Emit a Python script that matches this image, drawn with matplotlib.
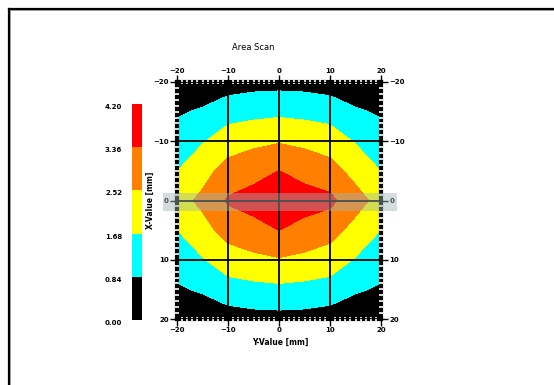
import numpy as np
import matplotlib
matplotlib.use("Agg")
import matplotlib.pyplot as plt
from matplotlib.colors import ListedColormap, BoundaryNorm
from matplotlib.ticker import MultipleLocator
from matplotlib.lines import Line2D
from matplotlib.patches import Rectangle

# scan grid (mm) and values
y_pos = [-20, -15, -10, -5, 0, 5, 10, 15, 20]   # horizontal axis ("Y-Value")
x_pos = [-20, -15, -10, -5, 0, 5, 10, 15, 20]   # vertical axis ("X-Value")
values = [
    [0.15, 0.20, 0.40, 0.55, 0.56, 0.55, 0.40, 0.20, 0.15],
    [0.73, 0.95, 1.35, 1.40, 1.49, 1.40, 1.35, 0.95, 0.73],
    [1.20, 1.62, 2.10, 2.38, 2.45, 2.38, 2.10, 1.62, 1.20],
    [1.67, 2.23, 2.85, 2.92, 3.37, 2.92, 2.85, 2.23, 1.67],
    [2.20, 2.70, 3.45, 3.85, 4.20, 3.90, 3.55, 2.85, 2.20],
    [1.67, 2.23, 2.85, 2.92, 3.37, 2.92, 2.85, 2.23, 1.67],
    [1.20, 1.62, 2.10, 2.38, 2.45, 2.38, 2.10, 1.62, 1.20],
    [0.73, 0.95, 1.35, 1.40, 1.49, 1.40, 1.35, 0.95, 0.73],
    [0.15, 0.20, 0.40, 0.55, 0.56, 0.55, 0.40, 0.20, 0.15],
]
levels = [0.00, 0.84, 1.68, 2.52, 3.36, 4.20]
level_labels = ["0.00", "0.84", "1.68", "2.52", "3.36", "4.20"]
colors = ["#000000", "#00ffff", "#ffff00", "#ff8000", "#ff0000"]
ticks = [-20, -10, 0, 10, 20]

W, H = 554, 385
fig = plt.figure(figsize=(W / 100, H / 100), dpi=100)

def box(x0, y0, x1, y1):
    # pixel box -> figure fraction
    return [x0 / W, 1 - y1 / H, (x1 - x0) / W, (y1 - y0) / H]

cmap = ListedColormap(colors)
norm = BoundaryNorm(levels, cmap.N)

ax = fig.add_axes(box(177, 82, 381, 319))
ax.contourf(y_pos, x_pos, np.array(values), levels=levels, colors=colors)
ax.set_xlim(-20, 20)
ax.set_ylim(20, -20)
ax.set_xticks(ticks)
ax.set_yticks(ticks)
ax.xaxis.set_minor_locator(MultipleLocator(1))
ax.yaxis.set_minor_locator(MultipleLocator(1))
ax.grid(True, which="major", color="black", linewidth=1.3)
ax.set_axisbelow(False)
for s in ax.spines.values():
    s.set_linewidth(3.0)
ax.tick_params(which="major", direction="out", length=5, width=1.0,
               top=True, right=True, labeltop=True, labelright=True,
               labelsize=5, pad=1)
ax.tick_params(which="minor", direction="inout", length=2.5, width=1.2,
               color="white", top=True, right=True)
for lab in ax.get_xticklabels() + ax.get_yticklabels():
    lab.set_fontweight("bold")

fig.text(253 / W, 1 - 48 / H, "Area Scan", ha="center", va="center",
         fontsize=6)
fig.text(280 / W, 1 - 342 / H, "Y-Value [mm]", ha="center", va="center",
         fontsize=5.5, fontweight="bold")
fig.text(150 / W, 1 - 200 / H, "X-Value [mm]", ha="center", va="center",
         fontsize=5.5, fontweight="bold", rotation=90)

# colour scale on the left
cax = fig.add_axes(box(132, 104, 142, 320))
sm = plt.cm.ScalarMappable(cmap=cmap, norm=norm)
cb = fig.colorbar(sm, cax=cax, ticks=levels)
cb.outline.set_visible(False)
cax.yaxis.set_ticks_position("left")
cax.set_yticklabels(level_labels)
cax.tick_params(length=0, labelsize=5, pad=7)
for lab in cax.get_yticklabels():
    lab.set_fontweight("bold")
    lab.set_va("top")

# highlight strip along the 0 line
fig.add_artist(Rectangle((163 / W, 1 - 211 / H), 234 / W, 18 / H,
                         transform=fig.transFigure, facecolor="#9fb4b4",
                         alpha=0.45, edgecolor="none", zorder=5))

# window frame (top and left edges)
fig.add_artist(Line2D([8.5 / W, 1], [1 - 8.5 / H] * 2, color="black", lw=1.6))
fig.add_artist(Line2D([8.5 / W] * 2, [0, 1 - 8.5 / H], color="black", lw=1.6))
fig.add_artist(Line2D([10 / W, 1], [1 - 10 / H] * 2, color="#999999", lw=0.7))
fig.add_artist(Line2D([10 / W] * 2, [0, 1 - 10 / H], color="#999999", lw=0.7))

fig.savefig("out.png", dpi=100)
